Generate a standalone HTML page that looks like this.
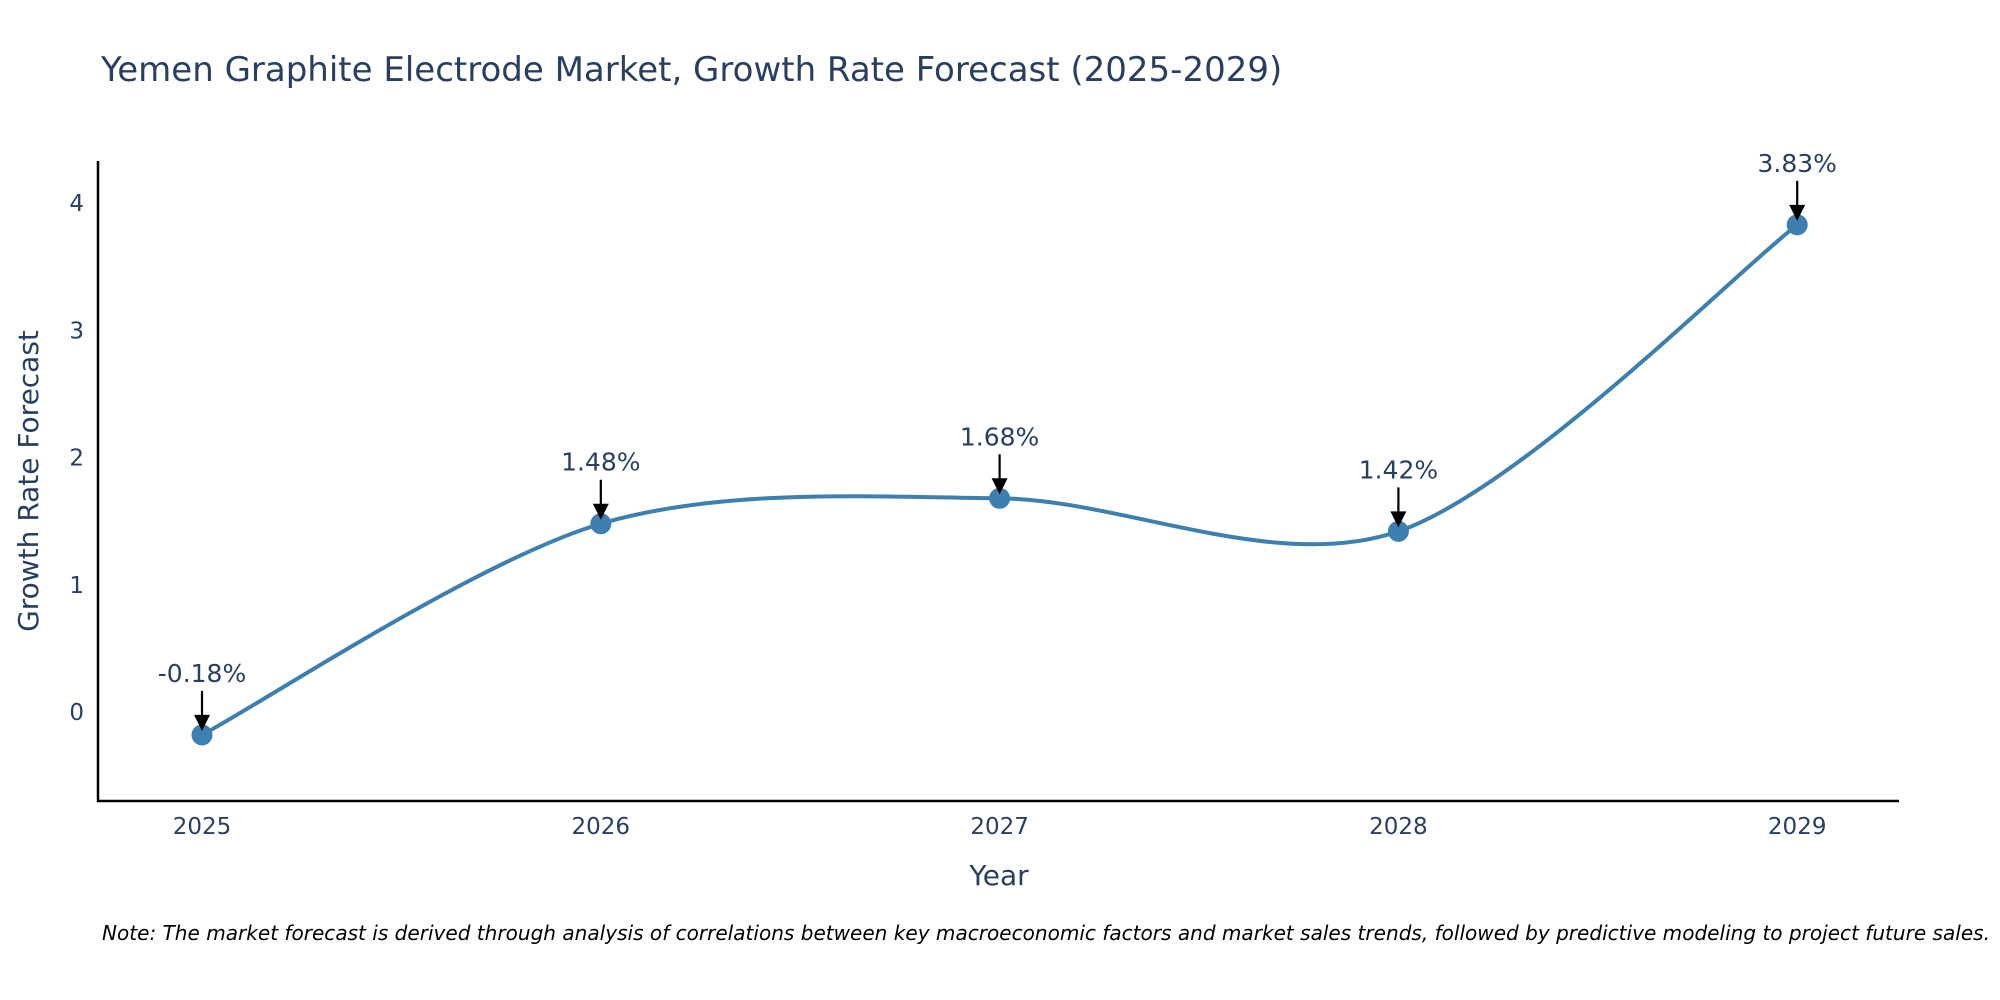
<!DOCTYPE html>
<html><head><meta charset="utf-8"><style>
body{margin:0;background:#fff;font-family:"Liberation Sans","DejaVu Sans",sans-serif}
svg{display:block}
</style></head><body>
<svg id="chart" width="2000" height="1000" xmlns="http://www.w3.org/2000/svg">
<text x="101" y="81" font-size="34" fill="#2a3f5f" font-family="DejaVu Sans, sans-serif">Yemen Graphite Electrode Market, Growth Rate Forecast (2025-2029)</text>
<g id="yticks"></g><g id="xticks"></g>
<line x1="98" y1="161" x2="98" y2="802" stroke="#000" stroke-width="2.5"/>
<line x1="97" y1="801" x2="1899" y2="801" stroke="#000" stroke-width="2.5"/>
<path id="line" fill="none" stroke="#3d7fb0" stroke-width="4"/>
<g id="marks"></g>
<text x="999" y="885" font-size="28" fill="#2a3f5f" text-anchor="middle" font-family="DejaVu Sans, sans-serif">Year</text>
<text transform="translate(38,481) rotate(-90)" font-size="28" fill="#2a3f5f" text-anchor="middle" font-family="DejaVu Sans, sans-serif">Growth Rate Forecast</text>
<text x="102" y="940" font-size="20" font-style="italic" fill="#000" textLength="1888" lengthAdjust="spacingAndGlyphs" font-family="DejaVu Sans, sans-serif">Note: The market forecast is derived through analysis of correlations between key macroeconomic factors and market sales trends, followed by predictive modeling to project future sales.</text>
</svg>
<script>
const years=["2025","2026","2027","2028","2029"];
const values=[-0.18,1.48,1.68,1.42,3.83];
const labels=["-0.18%","1.48%","1.68%","1.42%","3.83%"];
const yTicks=[0,1,2,3,4];
const NS="http://www.w3.org/2000/svg";
const xS=i=>202+i*398.8;
const yS=v=>712-v*127.2;
function mk(t,a,p){const e=document.createElementNS(NS,t);for(const k in a)e.setAttribute(k,a[k]);p.appendChild(e);return e;}
const yt=document.getElementById('yticks');
yTicks.forEach(v=>{const t=mk('text',{x:84,y:yS(v)+8,'font-size':23,fill:'#2a3f5f','text-anchor':'end','font-family':'DejaVu Sans, sans-serif'},yt);t.textContent=v;

});
const xt=document.getElementById('xticks');
years.forEach((y,i)=>{const t=mk('text',{x:xS(i),y:834,'font-size':23,fill:'#2a3f5f','text-anchor':'middle','font-family':'DejaVu Sans, sans-serif'},xt);t.textContent=y;

});
const P=values.map((v,i)=>[xS(i),yS(v)]);
let d=`M${P[0][0]},${P[0][1]}`;
const k=1/6.5;
for(let i=0;i<P.length-1;i++){const p0=P[Math.max(i-1,0)],p1=P[i],p2=P[i+1],p3=P[Math.min(i+2,P.length-1)];
const c1=[p1[0]+(p2[0]-p0[0])*k,p1[1]+(p2[1]-p0[1])*k],c2=[p2[0]-(p3[0]-p1[0])*k,p2[1]-(p3[1]-p1[1])*k];
d+=` C${c1[0]},${c1[1]} ${c2[0]},${c2[1]} ${p2[0]},${p2[1]}`;}
document.getElementById('line').setAttribute('d',d);
const g=document.getElementById('marks');
P.forEach((p,i)=>{
const c=mk('circle',{cx:p[0],cy:p[1],r:10.5,fill:'#3d7fb0'},g);


const l=mk('line',{x1:p[0],y1:p[1]-44,x2:p[0],y2:p[1]-18,stroke:'#000','stroke-width':2.2},g);


const h=mk('polygon',{points:`${p[0]-8},${p[1]-20} ${p[0]+8},${p[1]-20} ${p[0]},${p[1]-4}`,fill:'#000'},g);


const t=mk('text',{x:p[0],y:p[1]-53,'font-size':25,fill:'#2a3f5f','text-anchor':'middle','font-family':'DejaVu Sans, sans-serif'},g);
t.textContent=labels[i];

});
</script>
</body></html>
